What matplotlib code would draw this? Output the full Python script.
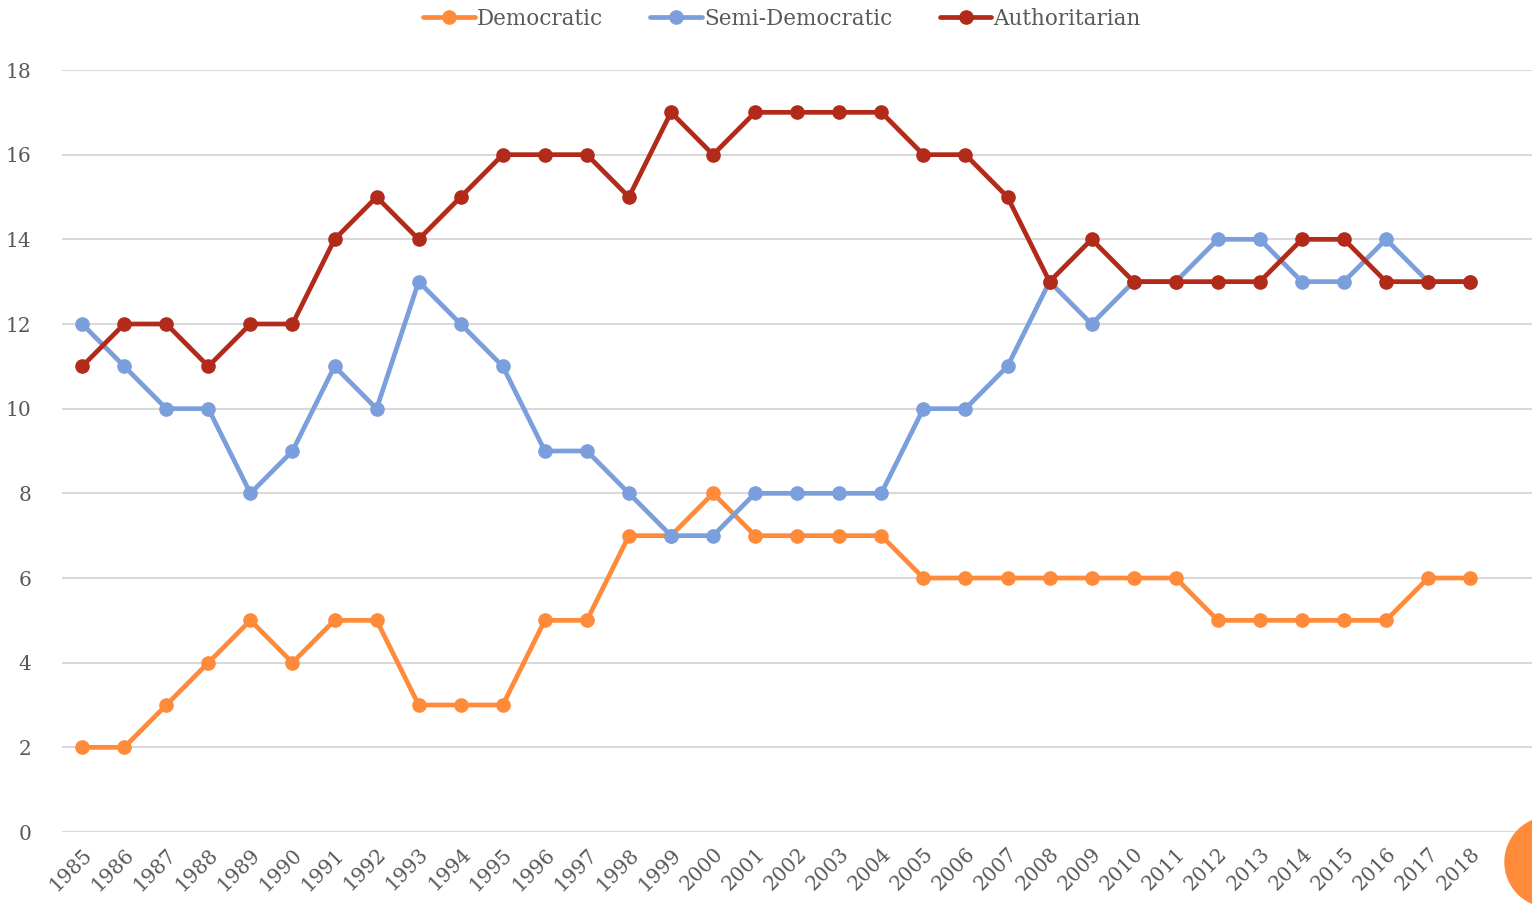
import matplotlib
matplotlib.use('Agg')
import matplotlib.pyplot as plt
from matplotlib.patches import Ellipse

years = list(range(1985, 2019))
democratic = [2, 2, 3, 4, 5, 4, 5, 5, 3, 3, 3, 5, 5, 7, 7, 8, 7, 7, 7, 7,
              6, 6, 6, 6, 6, 6, 6, 5, 5, 5, 5, 5, 6, 6]
semi_democratic = [12, 11, 10, 10, 8, 9, 11, 10, 13, 12, 11, 9, 9, 8, 7, 7, 8, 8, 8, 8,
                   10, 10, 11, 13, 12, 13, 13, 14, 14, 13, 13, 14, 13, 13]
authoritarian = [11, 12, 12, 11, 12, 12, 14, 15, 14, 15, 16, 16, 16, 15, 17, 16, 17, 17, 17, 17,
                 16, 16, 15, 13, 14, 13, 13, 13, 13, 14, 14, 13, 13, 13]
y_ticks = [0, 2, 4, 6, 8, 10, 12, 14, 16, 18]

plt.rcParams['font.family'] = ['DejaVu Serif']
text_color = '#595959'

fig = plt.figure(figsize=(15.32, 9.07), dpi=100)
ax = fig.add_axes([62/1532, 1 - 832/907, 1 - 62/1532, (832 - 70)/907])

series = [
    ('Democratic', democratic, '#FF8A3A'),
    ('Semi-Democratic', semi_democratic, '#7B9EDC'),
    ('Authoritarian', authoritarian, '#B22A1A'),
]
for name, vals, col in series:
    ax.plot(years, vals, color=col, linewidth=3.4, marker='o', markersize=9.5,
            label=name, solid_capstyle='round', solid_joinstyle='round')

ax.set_ylim(0, 18)
ax.set_xlim(1984.52, 2019.47)
ax.set_yticks(y_ticks)
ax.set_xticks(years)
ax.set_xticklabels([str(y) for y in years], rotation=45, ha='right',
                   rotation_mode='anchor')
ax.tick_params(axis='both', length=0, labelsize=14.5, colors=text_color, pad=9)
ax.tick_params(axis='y', pad=22)
ax.grid(axis='y', color='#D9D9D9', linewidth=1.5)
ax.set_axisbelow(True)
for s in ax.spines.values():
    s.set_visible(False)

fig.legend(loc='center', bbox_to_anchor=(782/1532, 1 - 19/907), ncol=3, frameon=False,
           fontsize=15.5, handlelength=2.4, handletextpad=0.1, columnspacing=2.2,
           labelcolor=text_color)

# orange bubble at bottom right corner
fig.patches.append(Ellipse((1550/1532, 1 - 862/907), 90/1532, 90/907,
                           transform=fig.transFigure, color='#FF8A3A', zorder=5))

fig.savefig('out.png', dpi=100)
